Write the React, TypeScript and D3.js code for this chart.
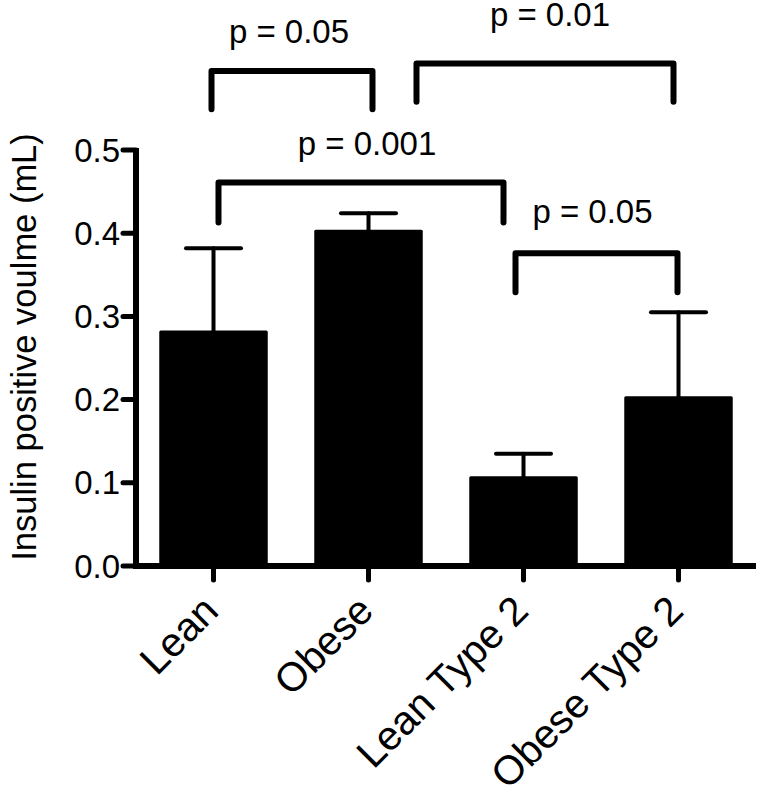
import React from "react";
import * as d3 from "d3";

const categories = ["Lean", "Obese", "Lean Type 2", "Obese Type 2"];
const means = [0.283, 0.404, 0.108, 0.204];
const sems = [0.099, 0.02, 0.027, 0.101];
const yTicks = [0.0, 0.1, 0.2, 0.3, 0.4, 0.5];
const pLabels = ["p = 0.05", "p = 0.01", "p = 0.001", "p = 0.05"];
const pFrom = ["Lean", "Obese", "Lean", "Lean Type 2"];
const pTo = ["Obese", "Obese Type 2", "Lean Type 2", "Obese Type 2"];
const pTop = [0.595, 0.604, 0.461, 0.376];
const pBottom = [0.549, 0.558, 0.413, 0.329];

// layout (pixel offsets, not data)
const bracketDx: [number, number][] = [
  [-2, 4],
  [48, -5],
  [5, -20],
  [-8, -1],
];
const labelDx = [-3, 5, 6, -4];
const labelDy = [-28, -37, -27, -30];

const W = 759;
const H = 788;
const FONT = "'Liberation Sans', Arial, Helvetica, sans-serif";

export default function App() {
  const x = d3
    .scaleBand<string>()
    .domain(categories)
    .range([136, 756])
    .paddingInner(0.3)
    .paddingOuter(0.15);
  const y = d3.scaleLinear().domain([0, 0.5]).range([566, 150]);
  const cx = (c: string) => (x(c) as number) + x.bandwidth() / 2;
  const capW = 55;

  return (
    <svg
      width={W}
      height={H}
      style={{ position: "absolute", left: 0, top: 0, background: "#fff" }}
      fontFamily={FONT}
    >
      {/* bars */}
      {categories.map((c, i) => (
        <rect
          key={c}
          x={x(c)}
          y={y(means[i])}
          width={x.bandwidth()}
          height={y(0) - y(means[i])}
          fill="#000"
          rx={1.5}
        />
      ))}
      {/* error bars */}
      {categories.map((c, i) => (
        <g key={"e" + c} stroke="#000" strokeWidth={4} strokeLinecap="round">
          <line x1={cx(c)} x2={cx(c)} y1={y(means[i])} y2={y(means[i] + sems[i])} />
          <line
            x1={cx(c) - capW / 2}
            x2={cx(c) + capW / 2}
            y1={y(means[i] + sems[i])}
            y2={y(means[i] + sems[i])}
          />
        </g>
      ))}
      {/* y axis */}
      <line x1={136} x2={136} y1={y(0.5) - 2} y2={y(0) + 3} stroke="#000" strokeWidth={6} />
      {yTicks.map((t) => (
        <g key={"yt" + t}>
          <line x1={123} x2={136} y1={y(t)} y2={y(t)} stroke="#000" strokeWidth={5} strokeLinecap="round" />
          <text x={120} y={y(t)} dy="0.35em" textAnchor="end" fontSize={33} fill="#000">
            {d3.format(".1f")(t)}
          </text>
        </g>
      ))}
      {/* x axis */}
      <line x1={133} x2={756} y1={y(0)} y2={y(0)} stroke="#000" strokeWidth={6} />
      {categories.map((c) => (
        <g key={"xt" + c}>
          <line x1={cx(c)} x2={cx(c)} y1={y(0)} y2={580} stroke="#000" strokeWidth={5} strokeLinecap="round" />
          <text
            transform={`translate(${cx(c) + 7},${613}) rotate(-45)`}
            textAnchor="end"
            fontSize={40.5}
            fill="#000"
          >
            {c}
          </text>
        </g>
      ))}
      {/* y title */}
      <text
        transform={`translate(36,${347}) rotate(-90)`}
        textAnchor="middle"
        fontSize={34.5}
        fill="#000"
      >
        Insulin positive voulme (mL)
      </text>
      {/* significance brackets */}
      {pLabels.map((lab, i) => {
        const x1 = cx(pFrom[i]) + bracketDx[i][0];
        const x2 = cx(pTo[i]) + bracketDx[i][1];
        const yt = y(pTop[i]);
        const yb = y(pBottom[i]);
        const path = d3.path();
        path.moveTo(x1, yb);
        path.lineTo(x1, yt);
        path.lineTo(x2, yt);
        path.lineTo(x2, yb);
        return (
          <g key={"p" + i}>
            <path d={path.toString()} fill="none" stroke="#000" strokeWidth={6} strokeLinecap="round" strokeLinejoin="round" />
            <text
              x={(x1 + x2) / 2 + labelDx[i]}
              y={yt + labelDy[i]}
              textAnchor="middle"
              fontSize={33}
              fill="#000"
            >
              {lab}
            </text>
          </g>
        );
      })}
    </svg>
  );
}
